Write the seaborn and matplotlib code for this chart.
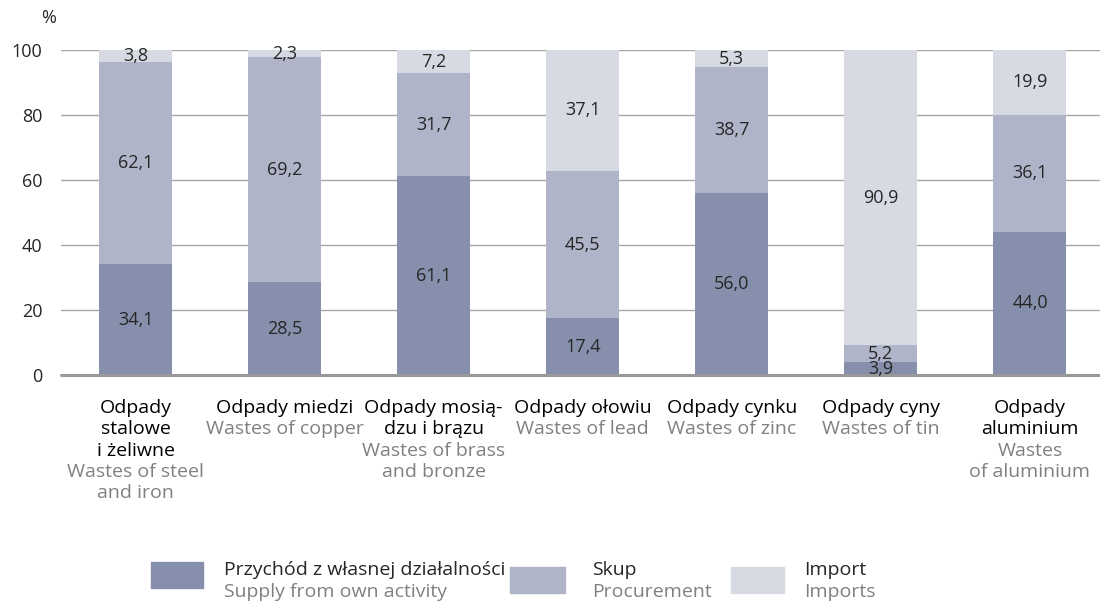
import numpy as np
import matplotlib.pyplot as plt
import seaborn as sns
import pandas as pd
from matplotlib.patches import Rectangle

# data
categories = ["steel", "copper", "brass", "lead", "zinc", "tin", "aluminium"]
own_activity = [34.1, 28.5, 61.1, 17.4, 56.0, 3.9, 44.0]
procurement = [62.1, 69.2, 31.7, 45.5, 38.7, 5.2, 36.1]
imports = [3.8, 2.3, 7.2, 37.1, 5.3, 90.9, 19.9]

labels_pl = [["Odpady", "stalowe", "i żeliwne"], ["Odpady miedzi"],
             ["Odpady mosią-", "dzu i brązu"], ["Odpady ołowiu"],
             ["Odpady cynku"], ["Odpady cyny"], ["Odpady", "aluminium"]]
labels_en = [["Wastes of steel", "and iron"], ["Wastes of copper"],
             ["Wastes of brass", "and bronze"], ["Wastes of lead"],
             ["Wastes of zinc"], ["Wastes of tin"], ["Wastes", "of aluminium"]]
yticks = [0, 20, 40, 60, 80, 100]

c_own, c_proc, c_imp = "#868fab", "#afb4c8", "#d8dae3"
grey_txt = "#808080"

sns.set_style("white")
plt.rcParams["font.family"] = ["Open Sans", "DejaVu Sans"]

df = pd.DataFrame(dict(cat=categories, own=own_activity, proc=procurement, imp=imports))
df["cum2"] = df["own"] + df["proc"]
df["cum3"] = df["cum2"] + df["imp"]

fig = plt.figure(figsize=(11, 6.01), dpi=100)
ax = fig.add_axes([61 / 1100, 1 - 375 / 601, 1 - 61 / 1100, 325 / 601])

# stacked bars drawn as overlapping cumulative totals
sns.barplot(data=df, x="cat", y="cum3", color=c_imp, width=0.49, saturation=1, ax=ax, zorder=2, linewidth=0)
sns.barplot(data=df, x="cat", y="cum2", color=c_proc, width=0.49, saturation=1, ax=ax, zorder=3, linewidth=0)
sns.barplot(data=df, x="cat", y="own", color=c_own, width=0.49, saturation=1, ax=ax, zorder=4, linewidth=0)

ax.set_xlim(-0.5, 6.47)
ax.set_ylim(0, 100)
for s in ax.spines.values():
    s.set_visible(False)
ax.set_xlabel("")
ax.set_ylabel("")
ax.set_xticks([])
ax.set_yticks(yticks)
ax.set_yticklabels([str(t) for t in yticks], fontsize=13)
ax.tick_params(axis="y", length=0, pad=13.5)
for t in yticks[1:]:
    ax.axhline(t, color="#a6a6a6", lw=1, zorder=1)
ax.axhline(0, color="#999999", lw=2.2, zorder=5, clip_on=False)

def fmt(v):
    return f"{v:.1f}".replace(".", ",")

for i in range(len(categories)):
    bottom = 0
    for v in (own_activity[i], procurement[i], imports[i]):
        ax.text(i, bottom + v / 2, fmt(v), ha="center", va="center", fontsize=13, zorder=6)
        bottom += v
    lines = [(l, "black") for l in labels_pl[i]] + [(l, grey_txt) for l in labels_en[i]]
    for k, (txt, col) in enumerate(lines):
        ax.annotate(txt, xy=(i, 0), xytext=(0, -27.4 - k * 15.3), textcoords="offset points",
                    ha="center", va="baseline", fontsize=14, color=col, annotation_clip=False)

fig.text(49 / 1100, 1 - 18 / 601, "%", ha="center", va="center", fontsize=13)

# legend
legend_items = [(151, 562, 52, c_own, 224, "Przychód z własnej działalności", "Supply from own activity"),
                (510, 567, 55, c_proc, 592, "Skup", "Procurement"),
                (731, 567, 53, c_imp, 804, "Import", "Imports")]
for sx, sy, sw, col, tx, pl, en in legend_items:
    fig.add_artist(Rectangle((sx / 1100, 1 - (sy + 26) / 601), sw / 1100, 26 / 601,
                             transform=fig.transFigure, color=col))
    fig.text(tx / 1100, 1 - 575 / 601, pl, ha="left", va="baseline", fontsize=14)
    fig.text(tx / 1100, 1 - 597 / 601, en, ha="left", va="baseline", fontsize=14, color=grey_txt)

fig.savefig("out.png", dpi=100)
